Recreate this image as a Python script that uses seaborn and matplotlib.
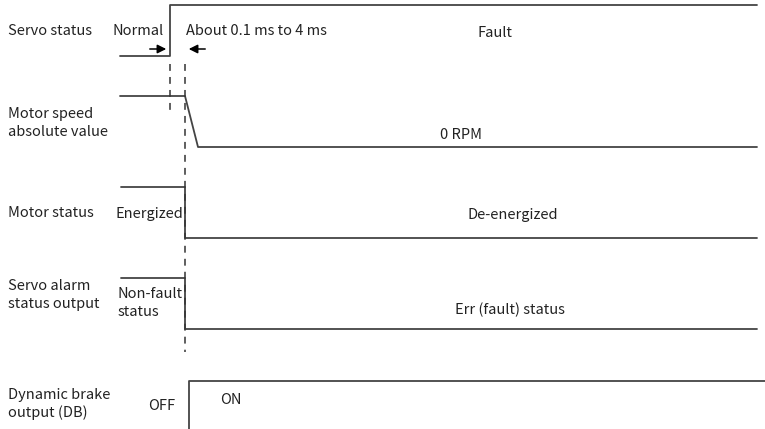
import pandas as pd
import matplotlib.pyplot as plt
import seaborn as sns

sns.set_theme(style="white")
plt.rcParams['font.family'] = ['Noto Sans CJK SC', 'DejaVu Sans']

# 时间轴（像素刻度下的时间点）和信号电平（0=低, 1=高）
servo_t = [120, 170, 170, 757]
servo_lv = [0, 0, 1, 1]
speed_t = [120, 185, 198, 757]
speed_lv = [1, 1, 0, 0]
motor_t = [121, 185, 185, 757]
motor_lv = [1, 1, 0, 0]
alarm_t = [121, 185, 185, 757]
alarm_lv = [1, 1, 0, 0]
db_t = [189, 189, 765]
db_lv = [0, 1, 1]

row_names = ["Servo status", "Motor speed\nabsolute value", "Motor status",
             "Servo alarm\nstatus output", "Dynamic brake\noutput (DB)"]
row_low = [56, 147, 238, 329, 432]   # 每行低电平位置
amp = 51
label_y = [31, 123, 213, 295, 404]

# 各状态文字
state_text = [("Normal", 113, 31), ("About 0.1 ms to 4 ms", 186, 31), ("Fault", 478, 33),
              ("0 RPM", 440, 135), ("Energized", 116, 214), ("De-energized", 468, 215),
              ("Non-fault\nstatus", 118, 303), ("Err (fault) status", 455, 310),
              ("OFF", 148, 406), ("ON", 220, 400)]

signals = [(servo_t, servo_lv), (speed_t, speed_lv), (motor_t, motor_lv),
           (alarm_t, alarm_lv), (db_t, db_lv)]

fig = plt.figure(figsize=(7.65, 4.29), dpi=100)
ax = fig.add_axes([0, 0, 1, 1])

for i, (t, lv) in enumerate(signals):
    df = pd.DataFrame({"t": t, "y": [row_low[i] - amp * v for v in lv]})
    sns.lineplot(data=df, x="t", y="y", sort=False, estimator=None,
                 color="#444444", linewidth=1.3, ax=ax)

# 虚线标记
dash = (0, (4.5, 4))
ax.plot([170, 170], [64, 112], color="#333333", lw=1.1, linestyle=dash)
ax.plot([185, 185], [64, 352], color="#333333", lw=1.1, linestyle=dash)

# 时间间隔箭头
ax.annotate("", xy=(169, 49), xytext=(147, 49),
            arrowprops=dict(arrowstyle="-|>", color="black", lw=1.1, mutation_scale=13))
ax.annotate("", xy=(186, 49), xytext=(208, 49),
            arrowprops=dict(arrowstyle="-|>", color="black", lw=1.1, mutation_scale=13))

for name, y in zip(row_names, label_y):
    ax.text(8, y, name, fontsize=10.5, va="center", ha="left", color="#222222", linespacing=1.35)
for s, x, y in state_text:
    ax.text(x, y, s, fontsize=10.5, va="center", ha="left", color="#222222", linespacing=1.35)

ax.set_xlim(0, 765)
ax.set_ylim(429, 0)
ax.axis("off")

plt.savefig("out.png", dpi=100)
